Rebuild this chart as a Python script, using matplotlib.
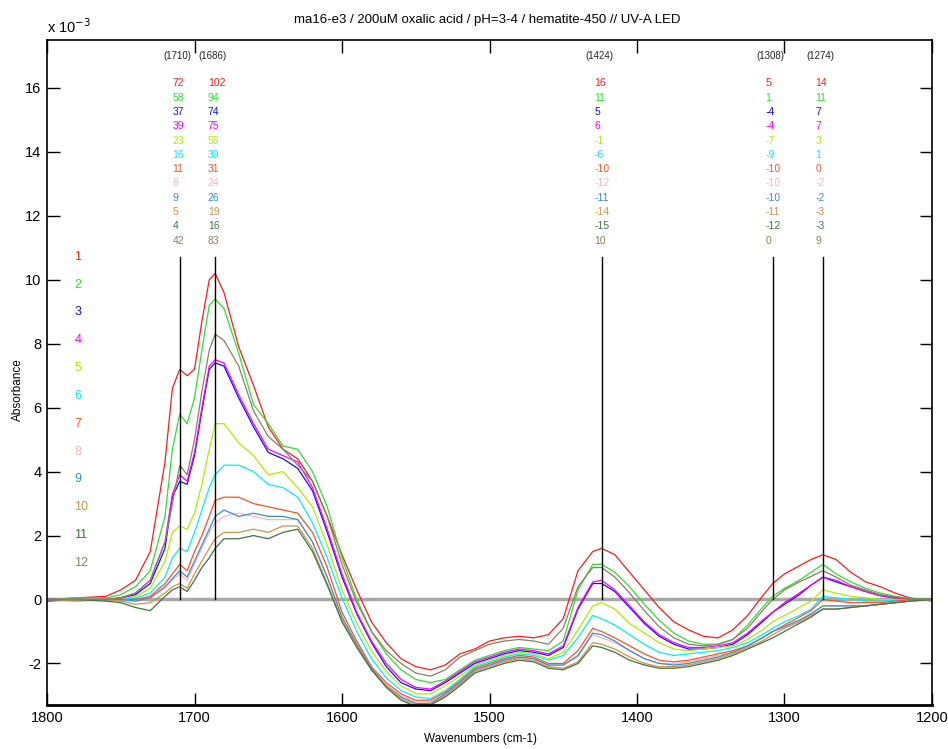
import matplotlib
matplotlib.use("Agg")
import matplotlib.pyplot as plt
import matplotlib.font_manager as fm

names = {f.name for f in fm.fontManager.ttflist}
NARROW = 'Liberation Sans Narrow' in names
BASE = 'Liberation Sans Narrow' if NARROW else 'Liberation Sans'
plt.rcParams['font.family'] = [BASE, 'DejaVu Sans']

wn = [1800, 1780, 1760, 1750, 1740, 1730, 1720, 1715, 1710, 1705,
      1700, 1695, 1690, 1686, 1680, 1670, 1660, 1650, 1640, 1630,
      1620, 1610, 1600, 1590, 1580, 1570, 1560, 1550, 1540, 1530,
      1520, 1510, 1500, 1490, 1480, 1470, 1460, 1450, 1440, 1430,
      1424, 1415, 1405, 1395, 1385, 1375, 1365, 1355, 1345, 1335,
      1325, 1315, 1308, 1300, 1290, 1282, 1274, 1265, 1255, 1245,
      1235, 1225, 1215, 1200]

s1 = [0.0, 0.05, 0.1, 0.3, 0.6, 1.5, 4.3, 6.6, 7.2, 7.0,
      7.2, 8.7, 10.0, 10.2, 9.6, 7.9, 6.7, 5.4, 4.7, 4.4,
      3.7, 2.6, 1.4, 0.3, -0.7, -1.35, -1.85, -2.1, -2.2, -2.05,
      -1.7, -1.55, -1.3, -1.2, -1.15, -1.2, -1.1, -0.6, 0.9, 1.5,
      1.6, 1.4, 0.85, 0.3, -0.25, -0.7, -0.95, -1.15, -1.2, -0.95,
      -0.5, 0.1, 0.5, 0.8, 1.05, 1.25, 1.4, 1.25, 0.85, 0.55,
      0.4, 0.2, 0.05, -0.05]
s2 = [0.0, 0.05, 0.05, 0.15, 0.4, 0.9, 2.6, 4.7, 5.8, 5.5,
      6.3, 7.8, 9.2, 9.4, 9.1, 7.7, 6.1, 5.5, 4.8, 4.7,
      4.0, 2.9, 1.3, 0.0, -1.0, -1.7, -2.2, -2.5, -2.6, -2.5,
      -2.2, -1.9, -1.75, -1.6, -1.5, -1.55, -1.6, -1.3, 0.3, 1.1,
      1.1, 0.85, 0.4, -0.15, -0.65, -1.05, -1.3, -1.4, -1.4, -1.25,
      -0.8, -0.25, 0.1, 0.35, 0.6, 0.85, 1.1, 0.8, 0.55, 0.35,
      0.2, 0.1, 0.03, 0.0]
s3 = [-0.05, 0.0, 0.0, 0.05, 0.15, 0.5, 1.6, 3.2, 3.7, 3.6,
      4.5, 5.9, 7.2, 7.4, 7.3, 6.3, 5.4, 4.6, 4.4, 4.1,
      3.4, 2.1, 0.7, -0.45, -1.35, -2.1, -2.6, -2.8, -2.85, -2.6,
      -2.3, -2.0, -1.85, -1.7, -1.6, -1.65, -1.75, -1.5, -0.3, 0.5,
      0.5, 0.25, -0.25, -0.75, -1.15, -1.4, -1.55, -1.55, -1.5, -1.4,
      -1.1, -0.7, -0.4, -0.15, 0.15, 0.45, 0.7, 0.55, 0.4, 0.25,
      0.12, 0.05, 0.0, 0.0]
s4 = [0.0, 0.0, 0.0, 0.05, 0.2, 0.6, 1.8, 3.3, 3.9, 3.7,
      4.6, 6.0, 7.3, 7.5, 7.4, 6.4, 5.5, 4.7, 4.5, 4.3,
      3.5, 2.2, 0.8, -0.4, -1.3, -2.0, -2.5, -2.75, -2.8, -2.55,
      -2.25, -1.95, -1.8, -1.65, -1.55, -1.6, -1.7, -1.45, -0.25, 0.55,
      0.6, 0.3, -0.2, -0.7, -1.1, -1.35, -1.5, -1.5, -1.45, -1.35,
      -1.05, -0.65, -0.4, -0.1, 0.2, 0.45, 0.7, 0.6, 0.4, 0.25,
      0.12, 0.05, 0.0, 0.0]
s5 = [0.0, 0.0, 0.0, 0.0, 0.1, 0.35, 1.2, 2.1, 2.3, 2.2,
      2.7, 3.6, 4.7, 5.5, 5.5, 4.9, 4.5, 3.9, 4.0, 3.5,
      2.9, 1.7, 0.3, -0.75, -1.6, -2.25, -2.7, -2.95, -2.95, -2.7,
      -2.4, -2.05, -1.9, -1.75, -1.65, -1.7, -1.85, -1.65, -0.95, -0.2,
      -0.1, -0.3, -0.75, -1.05, -1.35, -1.55, -1.6, -1.55, -1.5, -1.45,
      -1.25, -0.95, -0.7, -0.5, -0.25, -0.05, 0.3, 0.2, 0.1, 0.05,
      0.0, 0.0, 0.0, 0.0]
s6 = [0.0, 0.0, 0.0, 0.0, 0.05, 0.2, 0.7, 1.3, 1.6, 1.5,
      2.1, 2.8, 3.5, 3.9, 4.2, 4.2, 4.0, 3.6, 3.5, 3.2,
      2.4, 1.3, 0.05, -1.0, -1.85, -2.45, -2.85, -3.05, -3.1, -2.85,
      -2.5, -2.1, -1.95, -1.8, -1.7, -1.75, -1.9, -1.75, -1.2, -0.5,
      -0.6, -0.8, -1.1, -1.4, -1.65, -1.75, -1.7, -1.65, -1.6, -1.5,
      -1.35, -1.1, -0.9, -0.7, -0.5, -0.3, 0.1, 0.05, 0.0, -0.05,
      -0.05, -0.03, 0.0, 0.0]
s7 = [0.0, 0.0, 0.0, 0.0, 0.0, 0.1, 0.5, 0.8, 1.1, 0.9,
      1.5, 2.0, 2.6, 3.1, 3.2, 3.2, 3.0, 2.9, 2.8, 2.7,
      2.1, 1.0, -0.4, -1.3, -2.1, -2.6, -2.95, -3.15, -3.15, -2.9,
      -2.55, -2.15, -2.0, -1.85, -1.75, -1.8, -2.0, -2.0, -1.6, -0.9,
      -1.0, -1.2, -1.45, -1.7, -1.9, -1.95, -1.9, -1.8, -1.7, -1.6,
      -1.45, -1.2, -1.0, -0.8, -0.55, -0.35, 0.0, -0.05, -0.1, -0.1,
      -0.1, -0.05, 0.0, 0.0]
s8 = [0.0, 0.0, 0.0, 0.0, -0.05, 0.05, 0.35, 0.6, 0.8, 0.6,
      1.1, 1.6, 2.1, 2.4, 2.6, 2.7, 2.6, 2.5, 2.5, 2.5,
      1.8, 0.7, -0.55, -1.4, -2.15, -2.65, -3.0, -3.2, -3.2, -2.95,
      -2.6, -2.2, -2.05, -1.9, -1.8, -1.85, -2.05, -2.05, -1.8, -1.1,
      -1.2, -1.35, -1.6, -1.85, -2.0, -2.0, -1.95, -1.85, -1.75, -1.65,
      -1.45, -1.2, -1.0, -0.85, -0.65, -0.45, -0.2, -0.2, -0.2, -0.2,
      -0.15, -0.1, -0.05, 0.0]
s9 = [0.0, 0.0, 0.0, 0.0, -0.05, 0.05, 0.4, 0.65, 0.9, 0.7,
      1.2, 1.7, 2.2, 2.6, 2.8, 2.6, 2.7, 2.6, 2.6, 2.5,
      1.8, 0.7, -0.55, -1.4, -2.15, -2.7, -3.05, -3.25, -3.25, -2.95,
      -2.6, -2.2, -2.05, -1.9, -1.8, -1.85, -2.05, -2.05, -1.75, -1.05,
      -1.1, -1.3, -1.6, -1.85, -2.0, -2.05, -2.0, -1.9, -1.8, -1.65,
      -1.45, -1.2, -1.0, -0.85, -0.65, -0.45, -0.2, -0.2, -0.2, -0.2,
      -0.15, -0.1, -0.05, 0.0]
s10 = [0.0, -0.05, 0.0, -0.05, -0.15, -0.1, 0.2, 0.4, 0.5, 0.35,
       0.8, 1.2, 1.6, 1.9, 2.1, 2.1, 2.2, 2.1, 2.3, 2.3,
       1.6, 0.5, -0.65, -1.45, -2.2, -2.7, -3.1, -3.3, -3.3, -3.0,
       -2.65, -2.25, -2.1, -1.95, -1.85, -1.9, -2.1, -2.15, -1.95, -1.35,
       -1.4, -1.55, -1.8, -2.0, -2.1, -2.1, -2.05, -1.95, -1.85, -1.7,
       -1.5, -1.3, -1.1, -0.9, -0.7, -0.5, -0.3, -0.3, -0.25, -0.2,
       -0.15, -0.1, -0.05, 0.0]
s11 = [0.0, 0.0, -0.05, -0.1, -0.25, -0.35, 0.1, 0.3, 0.4, 0.25,
       0.6, 1.0, 1.3, 1.6, 1.9, 1.9, 2.0, 1.9, 2.1, 2.2,
       1.5, 0.45, -0.7, -1.5, -2.2, -2.75, -3.15, -3.35, -3.3, -3.05,
       -2.7, -2.3, -2.15, -2.0, -1.9, -1.95, -2.15, -2.2, -2.0, -1.45,
       -1.5, -1.65, -1.9, -2.05, -2.15, -2.15, -2.1, -2.0, -1.9, -1.75,
       -1.55, -1.35, -1.2, -1.0, -0.75, -0.55, -0.3, -0.3, -0.25, -0.2,
       -0.15, -0.1, -0.05, 0.0]
s12 = [0.0, 0.0, 0.0, 0.05, 0.2, 0.6, 1.8, 3.0, 4.2, 3.9,
       5.0, 6.5, 7.8, 8.3, 8.1, 7.3, 5.9, 5.1, 4.7, 4.2,
       3.7, 2.6, 1.1, -0.1, -1.0, -1.6, -2.0, -2.3, -2.4, -2.2,
       -1.8, -1.6, -1.4, -1.3, -1.25, -1.3, -1.4, -0.9, 0.4, 1.0,
       1.0, 0.7, 0.2, -0.35, -0.85, -1.2, -1.4, -1.45, -1.4, -1.25,
       -0.9, -0.35, 0.0, 0.3, 0.55, 0.72, 0.9, 0.7, 0.45, 0.3,
       0.15, 0.08, 0.02, 0.0]

series = [s1, s2, s3, s4, s5, s6, s7, s8, s9, s10, s11, s12]
labels = [str(i) for i in range(1, 13)]
colors = ['#ff1a1a', '#2ee02e', '#1010ff', '#ff00ff', '#aaf000', '#00eeff',
          '#ff5022', '#ffb4b4', '#3d8ccc', '#cc9448', '#3f7446', '#8c7e62']

marker_wn = [1710, 1686, 1424, 1308, 1274]
marker_vals = [
    [72, 58, 37, 39, 23, 16, 11, 8, 9, 5, 4, 42],
    [102, 94, 74, 75, 55, 39, 31, 24, 26, 19, 16, 83],
    [16, 11, 5, 6, -1, -6, -10, -12, -11, -14, -15, 10],
    [5, 1, -4, -4, -7, -9, -10, -10, -10, -11, -12, 0],
    [14, 11, 7, 7, 3, 1, 0, -2, -2, -3, -3, 9],
]
marker_top = 10.7

xticks = [1800, 1700, 1600, 1500, 1400, 1300, 1200]
yticks = [-2, 0, 2, 4, 6, 8, 10, 12, 14, 16]

W, H = 948, 749
fig = plt.figure(figsize=(W / 100, H / 100), dpi=100)
ax = fig.add_axes([47 / W, 1 - 705 / H, (932 - 47) / W, (705 - 40) / H])
ax.set_xlim(1800, 1200)
ax.set_ylim(-3.3, 17.5)

ax.axhline(0, color='#a8a8a8', lw=2.5, zorder=1)
for s, c in zip(series, colors):
    ax.plot(wn, s, color=c, lw=0.9, zorder=2)
for m in marker_wn:
    ax.plot([m, m], [0, marker_top], color='black', lw=1.0, zorder=3)

sz_num = 9.5 if NARROW else 7.5
sz_hdr = 8.8 if NARROW else 7.0
sz_tick = 12 if NARROW else 10.5
for m, vals in zip(marker_wn, marker_vals):
    ax.text(m + 1.5, 17.0, '(%d)' % m, ha='center', va='center', fontsize=sz_hdr, color='#222222')
    for i, (v, c) in enumerate(zip(vals, colors)):
        ypx = 83.5 + i * 14.3
        yv = (600 - ypx) / 32.0
        ax.text(m + 5.0, yv, str(v), ha='left', va='center', fontsize=sz_num, color=c)

for i, (lab, c) in enumerate(zip(labels, colors)):
    ypx = 257 + i * 27.85
    ax.text(1781.5, (600 - ypx) / 32.0, lab, ha='left', va='center',
            fontsize=(11 if NARROW else 9), color=c)

ax.set_xticks(xticks)
ax.set_yticks(yticks)
ax.set_xticklabels([str(x) for x in xticks])
ax.set_yticklabels([str(y) for y in yticks])
ax.tick_params(direction='in', length=9, width=1.0, labelsize=sz_tick,
               top=True, right=True, pad=4)
for sp in ax.spines.values():
    sp.set_linewidth(1.2)
ax.spines['bottom'].set_linewidth(2.0)

fig.text(480 / W, 1 - 739 / H, 'Wavenumbers (cm-1)', ha='center', va='center',
         fontsize=(10 if NARROW else 8.5))
fig.text(18 / W, 1 - 390 / H, 'Absorbance', rotation=90, ha='center', va='center',
         fontsize=(10 if NARROW else 8.5))
fig.text(487 / W, 1 - 20 / H, 'ma16-e3 / 200uM oxalic acid / pH=3-4 / hematite-450 // UV-A LED',
         ha='center', va='center', fontsize=(11.5 if NARROW else 9.5))
fig.text(47 / W, 1 - 27 / H, 'x 10$^{-3}$', ha='left', va='center',
         fontsize=(12 if NARROW else 10.5))

fig.savefig('out.png', dpi=100)
